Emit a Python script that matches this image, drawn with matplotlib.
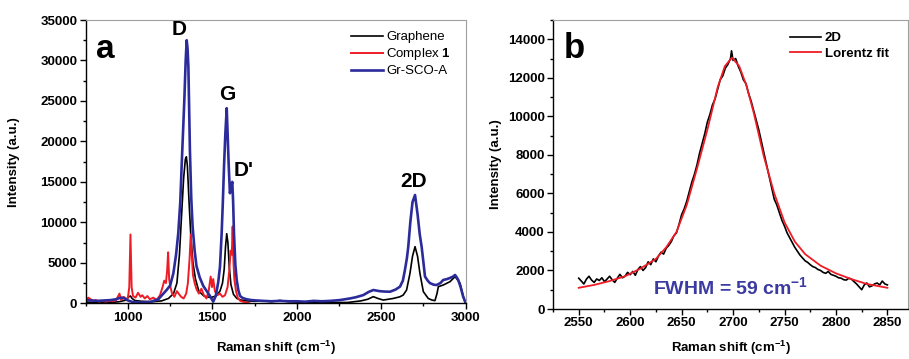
import matplotlib
matplotlib.use("Agg")
import matplotlib.pyplot as plt
from matplotlib.ticker import MultipleLocator

plt.rcParams['font.family'] = ['Liberation Sans', 'DejaVu Sans']
plt.rcParams['mathtext.fontset'] = 'custom'
plt.rcParams['mathtext.rm'] = 'Liberation Sans:bold'
plt.rcParams['mathtext.it'] = 'Liberation Sans:bold'
plt.rcParams['mathtext.bf'] = 'Liberation Sans:bold'
plt.rcParams['mathtext.default'] = 'rm'

# ---------------- Panel a data ----------------
graphene_x = [750, 800, 850, 900, 950, 990, 1005, 1015, 1025, 1040, 1080, 1150, 1200, 1240, 1270,
              1290, 1305, 1318, 1330, 1340, 1346, 1352, 1362, 1372, 1385, 1400, 1420, 1450, 1490,
              1520, 1545, 1560, 1570, 1578, 1585, 1592, 1600, 1610, 1625, 1645, 1670, 1700, 1750,
              1800, 1850, 1900, 1950, 2000, 2100, 2200, 2300, 2380, 2420, 2453, 2480, 2512, 2571,
              2610, 2630, 2650, 2670, 2685, 2700, 2715, 2729, 2749, 2778, 2800, 2818, 2830, 2838,
              2867, 2907, 2937, 2966, 2985, 3000]
graphene_y = [150, 100, 120, 100, 200, 400, 800, 900, 600, 350, 250, 200, 300, 600, 1200,
              2500, 6000, 11000, 15500, 17800, 18100, 17000, 12500, 8500, 5000, 3000, 1500, 900, 700,
              900, 1500, 2500, 4200, 7000, 8600, 7500, 4500, 2300, 1100, 600, 400, 300, 250,
              300, 200, 350, 200, 150, 100, 100, 100, 300, 500, 820, 600, 400, 600,
              800, 1020, 1640, 3700, 5800, 7000, 5800, 3700, 1450, 600, 400, 330, 1200, 2050,
              2260, 2670, 3300, 2500, 900, 0]

complex_x = [750, 765, 780, 795, 810, 830, 850, 870, 890, 910, 930, 950, 960, 975, 990, 1000,
             1008, 1015, 1022, 1030, 1045, 1060, 1075, 1085, 1100, 1115, 1130, 1150, 1170, 1190,
             1205, 1215, 1225, 1232, 1238, 1244, 1250, 1260, 1275, 1290, 1300, 1315, 1330, 1345,
             1355, 1365, 1372, 1378, 1385, 1395, 1405, 1420, 1435, 1450, 1465, 1478, 1490, 1498,
             1505, 1515, 1530, 1545, 1560, 1575, 1590, 1600, 1608, 1615, 1620, 1625, 1630, 1640,
             1650, 1665, 1680, 1700, 1720]
complex_y = [300, 700, 500, 300, 400, 200, 300, 200, 300, 250, 400, 1200, 400, 800, 500, 700,
             2000, 8500, 2000, 900, 700, 1300, 800, 1000, 600, 900, 500, 700, 400, 1000,
             2000, 2800, 2500, 4000, 6300, 3000, 2200, 1300, 800, 1500, 1200, 800, 600, 1200,
             2500, 5500, 8500, 6000, 3500, 2500, 1800, 1200, 1800, 1000, 600, 1500, 3300, 2000,
             3000, 1500, 1000, 1200, 800, 1000, 2000, 4000, 6500, 6000, 9500, 5000, 3000, 1500,
             700, 300, 200, 100, 0]

grsco_x = [750, 780, 820, 860, 900, 930, 950, 965, 980, 1000, 1030, 1080, 1130, 1180, 1210,
           1229, 1250, 1269, 1285, 1298, 1310, 1318, 1326, 1334, 1342, 1348, 1353, 1358, 1367,
           1375, 1383, 1395, 1406, 1425, 1446, 1470, 1486, 1505, 1520, 1535, 1545, 1555, 1562,
           1569, 1577, 1585, 1591, 1597, 1604, 1610, 1618, 1623, 1628, 1636, 1644, 1654, 1664,
           1680, 1703, 1730, 1760, 1800, 1850, 1900, 1950, 2000, 2050, 2100, 2150, 2200, 2256,
           2315, 2350, 2394, 2425, 2453, 2490, 2520, 2552, 2585, 2611, 2628, 2640, 2652, 2660,
           2672, 2685, 2700, 2715, 2728, 2739, 2750, 2759, 2775, 2788, 2810, 2828, 2850, 2867,
           2890, 2907, 2925, 2937, 2947, 2956, 2970, 2985, 3000]
grsco_y = [400, 350, 300, 350, 400, 500, 650, 700, 600, 350, 150, 100, 150, 500, 1200,
           1640, 2200, 3700, 6000, 8650, 12500, 16900, 21000, 25100, 30000, 32500, 31500, 29200, 18950,
           13000, 9500, 6500, 4600, 3200, 2150, 1400, 900, 200, 900, 2650, 4500, 8650, 12500,
           16900, 21000, 24100, 20500, 16900, 13600, 14400, 15000, 12500, 8650, 4800, 2900, 1600, 900,
           650, 500, 400, 350, 300, 250, 300, 250, 250, 200, 300, 250, 300, 400,
           600, 750, 1020, 1400, 1640, 1500, 1450, 1430, 1700, 2060, 2800, 4100, 5600, 7000,
           10000, 12500, 13380, 11000, 8500, 7000, 5000, 3300, 2800, 2500, 2300, 2260, 2500, 2880,
           3000, 3130, 3300, 3500, 3200, 2880, 2000, 820, 0]

# ---------------- Panel b data ----------------
band2d_x = [2550, 2552.5, 2555, 2557.5, 2560, 2562.5, 2565, 2567.5, 2570, 2572.5, 2575, 2577.5,
            2580, 2582.5, 2585, 2587.5, 2590, 2592.5, 2595, 2597.5, 2600, 2602.5, 2605, 2607.5,
            2610, 2612.5, 2615, 2617.5, 2620, 2622.5, 2625, 2627.5, 2630, 2632.5, 2635, 2637.5,
            2640, 2642.5, 2645, 2647.5, 2650, 2652.5, 2655, 2657.5, 2660, 2662.5, 2665, 2667.5,
            2670, 2672.5, 2675, 2677.5, 2680, 2682.5, 2685, 2687.5, 2690, 2692.5, 2695, 2697.5,
            2698.5, 2700, 2702.5, 2705, 2707.5, 2710, 2712.5, 2715, 2717.5, 2720, 2722.5, 2725,
            2727.5, 2730, 2732.5, 2735, 2737.5, 2740, 2742.5, 2745, 2747.5, 2750, 2752.5, 2755,
            2757.5, 2760, 2762.5, 2765, 2767.5, 2770, 2772.5, 2775, 2777.5, 2780, 2782.5, 2785,
            2787.5, 2790, 2792.5, 2795, 2797.5, 2800, 2802.5, 2805, 2807.5, 2810, 2812.5, 2815,
            2817.5, 2820, 2822.5, 2825, 2827.5, 2830, 2832.5, 2835, 2837.5, 2840, 2842.5, 2845,
            2847.5, 2850]
band2d_y = [1600, 1450, 1300, 1550, 1700, 1500, 1380, 1560, 1480, 1620, 1420, 1550,
            1700, 1520, 1380, 1600, 1800, 1620, 1700, 1900, 1780, 1950, 1750, 2050,
            2200, 2000, 2150, 2450, 2300, 2600, 2450, 2750, 2950, 2850, 3150, 3300,
            3500, 3800, 3950, 4400, 4900, 5200, 5600, 6100, 6600, 7000, 7500, 8100,
            8600, 9100, 9700, 10100, 10600, 10900, 11400, 11900, 12100, 12500, 12700, 13000,
            13400, 12900, 13000, 12600, 12300, 11900, 11700, 11200, 10800, 10300, 9800, 9300,
            8700, 8100, 7500, 6900, 6300, 5700, 5400, 5000, 4600, 4300, 3950, 3700,
            3450, 3200, 3000, 2800, 2650, 2500, 2420, 2300, 2200, 2150, 2050, 2000,
            1900, 1850, 1950, 1800, 1750, 1700, 1620, 1600, 1520, 1500, 1600, 1550,
            1420, 1300, 1150, 1000, 1250, 1350, 1150, 1200, 1300, 1350, 1250, 1450,
            1300, 1250]

fit_x = [2550, 2565, 2580, 2595, 2610, 2625, 2635, 2645, 2655, 2665, 2675, 2685, 2692, 2699,
         2706, 2713, 2720, 2730, 2740, 2750, 2760, 2770, 2785, 2800, 2815, 2830, 2850]
fit_y = [1100, 1250, 1450, 1700, 2100, 2600, 3200, 4000, 5400, 7300, 9300, 11500, 12600, 13050,
         12600, 11600, 10200, 7900, 6000, 4500, 3500, 2850, 2250, 1850, 1550, 1300, 1100]

BLACK = '#000000'
RED = '#ee1c25'
BLUE = '#2b2b9b'
TXTBLUE = '#3a3aa0'

W, H = 909, 359
fig = plt.figure(figsize=(W / 100, H / 100), dpi=100)

def frac(l, t, r, b):
    return [l / W, 1 - b / H, (r - l) / W, (b - t) / H]

def style(ax):
    for s in ['top', 'right']:
        ax.spines[s].set_color('#a0a0a0')
    for s in ['left', 'bottom']:
        ax.spines[s].set_color('black')
        ax.spines[s].set_linewidth(1.0)
    ax.tick_params(which='major', direction='out', length=4, width=1, labelsize=9.5, pad=2,
                   top=False, right=False)
    ax.tick_params(which='minor', direction='out', length=2.5, width=1, top=False, right=False)
    for lab in ax.get_xticklabels() + ax.get_yticklabels():
        lab.set_fontweight('bold')

# ---------------- Panel a ----------------
axa = fig.add_axes(frac(85.7, 20, 465.7, 303.3))
axa.plot(graphene_x, graphene_y, color=BLACK, lw=1.2, label='Graphene')
axa.plot(complex_x, complex_y, color=RED, lw=1.4, label='Complex $\\mathbf{1}$')
axa.plot(grsco_x, grsco_y, color=BLUE, lw=1.9, label='Gr-SCO-A')
axa.set_xlim(750, 3000)
axa.set_ylim(0, 35000)
axa.xaxis.set_major_locator(MultipleLocator(500))
axa.xaxis.set_minor_locator(MultipleLocator(250))
axa.yaxis.set_major_locator(MultipleLocator(5000))
axa.yaxis.set_minor_locator(MultipleLocator(2500))
style(axa)
axa.set_ylabel('Intensity (a.u.)', fontsize=9.5, fontweight='bold', labelpad=15)
axa.set_xlabel('Raman shift (cm$^{-1}$)', fontsize=9.5, fontweight='bold', labelpad=11)
leg = axa.legend(loc='upper left', bbox_to_anchor=(351 / W, 1 - 31 / H),
                 bbox_transform=fig.transFigure, frameon=False, fontsize=9.5,
                 handlelength=2.45, handletextpad=0.2, labelspacing=0.22,
                 borderpad=0, borderaxespad=0)
axa.text(0.027, 0.895, 'a', transform=axa.transAxes, fontsize=24, fontweight='bold',
         ha='left', va='center')
axa.text(1348, 32600, 'D', fontsize=15, fontweight='bold', ha='right', va='bottom')
axa.text(1587, 24600, 'G', fontsize=15, fontweight='bold', ha='center', va='bottom')
axa.text(1625, 15200, "D'", fontsize=15, fontweight='bold', ha='left', va='bottom')
axa.text(2690, 13900, '2D', fontsize=15, fontweight='bold', ha='center', va='bottom')

# ---------------- Panel b ----------------
axb = fig.add_axes(frac(553, 20, 908, 309))
axb.plot(band2d_x, band2d_y, color=BLACK, lw=1.2, label='2D')
axb.plot(fit_x, fit_y, color=RED, lw=1.3, label='Lorentz fit')
axb.set_xlim(2525, 2870)
axb.set_ylim(0, 15000)
axb.xaxis.set_major_locator(MultipleLocator(50))
axb.xaxis.set_minor_locator(MultipleLocator(25))
axb.yaxis.set_major_locator(MultipleLocator(2000))
axb.yaxis.set_minor_locator(MultipleLocator(1000))
style(axb)
axb.set_ylabel('Intensity (a.u.)', fontsize=9.5, fontweight='bold', labelpad=4)
axb.set_xlabel('Raman shift (cm$^{-1}$)', fontsize=9.5, fontweight='bold', labelpad=7)
legb = axb.legend(loc='upper left', bbox_to_anchor=(790 / W, 1 - 32 / H),
                  bbox_transform=fig.transFigure, frameon=False,
                  prop={'size': 9.5, 'weight': 'bold'},
                  handlelength=2.35, handletextpad=0.3, labelspacing=0.25,
                  borderpad=0, borderaxespad=0)
axb.text(0.029, 0.903, 'b', transform=axb.transAxes, fontsize=25, fontweight='bold',
         ha='left', va='center')
axb.text(0.5, 0.075, 'FWHM = 59 cm$^{-1}$', transform=axb.transAxes, fontsize=14,
         fontweight='bold', color=TXTBLUE, ha='center', va='center')

fig.savefig('out.png', dpi=100)
